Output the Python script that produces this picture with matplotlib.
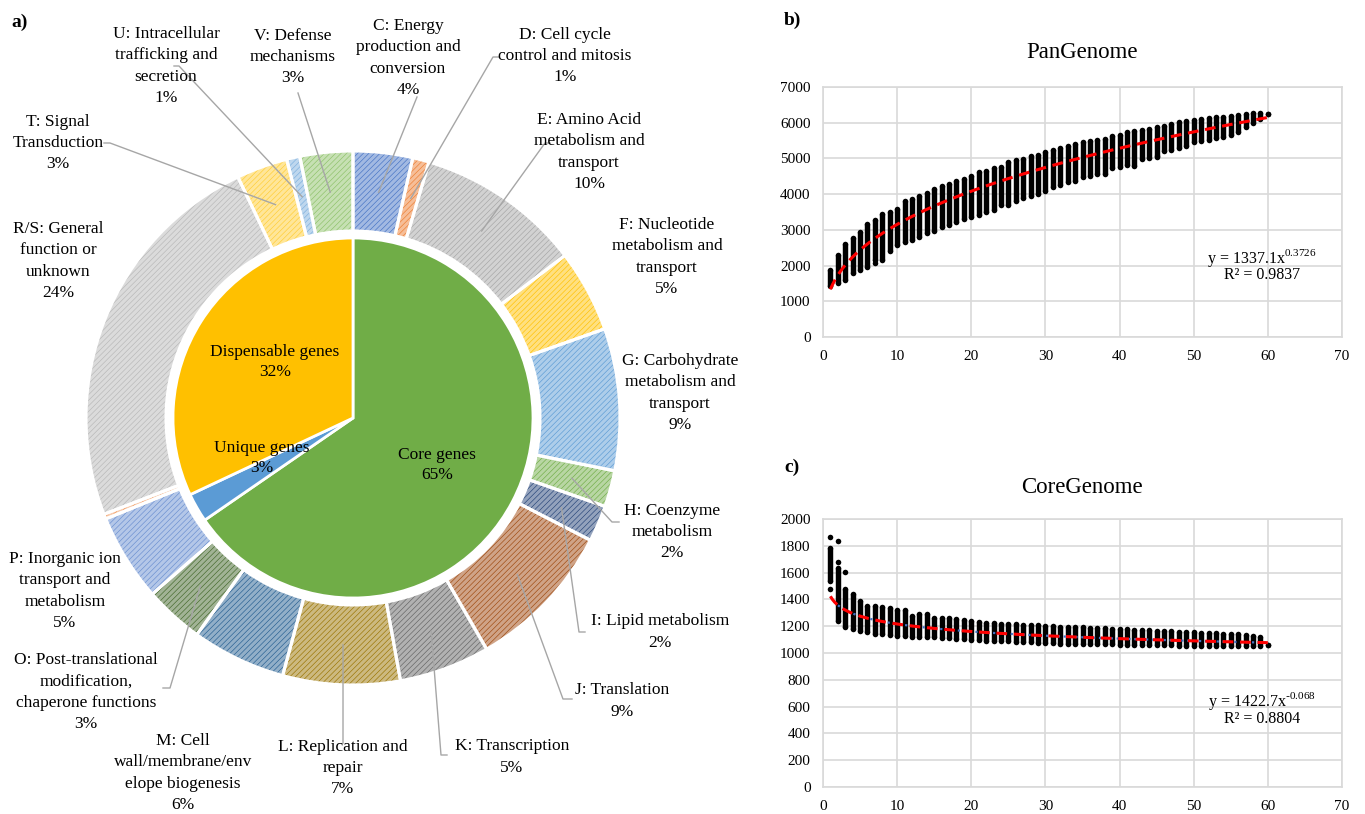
import matplotlib
matplotlib.use('Agg')
import matplotlib.pyplot as plt
import numpy as np
from matplotlib.colors import to_rgb

plt.rcParams['font.family'] = ['Liberation Serif', 'DejaVu Serif']
plt.rcParams['hatch.linewidth'] = 0.45
plt.rcParams['axes.unicode_minus'] = False

W, H = 1365, 814

# ---- a) inner pie: gene groups
gene_groups = ['Core genes', 'Unique genes', 'Dispensable genes']
gene_share = [65.4, 2.6, 32.0]
gene_pct = ['65%', '3%', '32%']
gene_colors = ['#70AD47', '#5B9BD5', '#FFC000']

# ---- a) outer ring: COG categories (clockwise from 12 o'clock)
cog_keys = ['C', 'D', 'E', 'F', 'G', 'H', 'I', 'J', 'K', 'L', 'M', 'O', 'P', 'Q', 'RS', 'T', 'U', 'V']
cog_names = ['C: Energy\nproduction and\nconversion',
             'D: Cell cycle\ncontrol and mitosis',
             'E: Amino Acid\nmetabolism and\ntransport',
             'F: Nucleotide\nmetabolism and\ntransport',
             'G: Carbohydrate\nmetabolism and\ntransport',
             'H: Coenzyme\nmetabolism',
             'I: Lipid metabolism',
             'J: Translation',
             'K: Transcription',
             'L: Replication and\nrepair',
             'M: Cell\nwall/membrane/env\nelope biogenesis',
             'O: Post-translational\nmodification,\nchaperone functions',
             'P: Inorganic ion\ntransport and\nmetabolism',
             None,
             'R/S: General\nfunction or\nunknown',
             'T: Signal\nTransduction',
             'U: Intracellular\ntrafficking and\nsecretion',
             'V: Defense\nmechanisms']
cog_pct = ['4%', '1%', '10%', '5%', '9%', '2%', '2%', '9%', '5%', '7%', '6%', '3%', '5%', '',
           '24%', '3%', '1%', '3%']
cog_share = [3.6, 1.0, 10.0, 5.0, 8.6, 2.2, 2.2, 9.1, 5.5, 7.1, 5.7, 3.6, 5.3, 0.3,
             23.8, 3.1, 0.8, 3.2]
cog_colors = ['#4472C4', '#ED7D31', '#A5A5A5', '#FFC000', '#5B9BD5', '#70AD47',
              '#264478', '#9E480E', '#636363', '#997300', '#255E91', '#43682B',
              '#698ED0', '#F1975A', '#B7B7B7', '#FFCD33', '#7CAFDD', '#8CC168']

# label centres (pixels, from top-left)
lab_pos = {'C': (408, 58), 'D': (565, 56), 'E': (589, 152), 'F': (667, 257),
           'G': (680, 393), 'H': (672, 532), 'I': (660, 632), 'J': (622, 701),
           'K': (512, 757), 'L': (343, 768), 'M': (183, 773), 'O': (86, 692),
           'P': (65, 591), 'RS': (58, 261), 'T': (58, 143), 'U': (166, 66),
           'V': (293, 57)}
leaders = {'T': [(104, 143), (110, 143)], 'U': [(174, 66), (179, 66)],
           'V': [(298, 93)], 'C': [(417, 97)], 'D': [(499, 57), (493, 57)],
           'E': [(550, 143), (545, 143)], 'H': [(619, 522), (612, 522)],
           'I': [(585, 632), (579, 632)], 'J': [(572, 699), (563, 699)],
           'K': [(447, 755), (441, 755)], 'L': [(343, 743)],
           'O': [(163, 688), (170, 688)]}

# ---- b) pan genome, c) core genome (value range per number of genomes)
n_genomes = np.arange(1, 61)
pan_max = [1890, 2290, 2600, 2760, 2940, 3160, 3290, 3440, 3500, 3590, 3820, 3870,
           3940, 4040, 4150, 4220, 4290, 4360, 4430, 4520, 4620, 4660, 4740, 4770,
           4890, 4960, 4990, 5080, 5110, 5170, 5240, 5290, 5360, 5400, 5450, 5500,
           5520, 5540, 5640, 5660, 5730, 5760, 5790, 5820, 5890, 5920, 5960, 6010,
           6050, 6070, 6100, 6130, 6150, 6160, 6190, 6210, 6240, 6260, 6260, 6240]
pan_min = [1430, 1520, 1600, 1780, 1890, 1970, 2150, 2150, 2410, 2570, 2660, 2710,
           2800, 2900, 2970, 3080, 3130, 3220, 3310, 3360, 3410, 3500, 3560, 3710,
           3710, 3820, 3900, 3940, 4010, 4080, 4210, 4270, 4340, 4380, 4490, 4520,
           4570, 4570, 4740, 4770, 4830, 4800, 4990, 5010, 5080, 5200, 5240, 5290,
           5360, 5450, 5500, 5520, 5570, 5610, 5660, 5730, 5870, 5980, 6100, 6240]
pan_out_x = [7, 45]
pan_out_y = [2060, 5030]

core_max = [1780, 1634, 1474, 1437, 1388, 1351, 1351, 1343, 1338, 1318, 1318, 1277,
            1294, 1294, 1264, 1259, 1259, 1252, 1247, 1239, 1234, 1227, 1227, 1220,
            1220, 1215, 1212, 1210, 1208, 1202, 1200, 1197, 1195, 1193, 1191, 1189,
            1187, 1185, 1181, 1178, 1176, 1174, 1171, 1169, 1167, 1165, 1163, 1160,
            1157, 1153, 1151, 1149, 1147, 1145, 1143, 1140, 1136, 1128, 1116, 1062]
core_min = [1540, 1240, 1195, 1178, 1165, 1153, 1141, 1141, 1136, 1128, 1128, 1123,
            1121, 1116, 1116, 1111, 1111, 1104, 1104, 1096, 1096, 1091, 1091, 1086,
            1086, 1081, 1081, 1079, 1077, 1072, 1072, 1070, 1070, 1068, 1068, 1066,
            1066, 1064, 1064, 1062, 1062, 1060, 1060, 1058, 1058, 1057, 1056, 1055,
            1055, 1054, 1054, 1053, 1053, 1052, 1052, 1051, 1050, 1050, 1052, 1062]
core_out_x = [1, 1, 2, 2, 3]
core_out_y = [1864, 1480, 1837, 1676, 1605]

# fitted power-law trendlines shown on the chart
pan_fit = (1337.1, 0.3726, 0.9837)
core_fit = (1422.7, -0.068, 0.8804)


def lighten(c, f):
    return tuple(np.array(to_rgb(c)) * f + (1 - f))


fig = plt.figure(figsize=(W / 100, H / 100), dpi=100)

# ---------------- a) donut, drawn in pixel coordinates
bg = fig.add_axes([0, 0, 1, 1])
cx, cy = 353, 418
r_out, ring_w, r_in = 267, 80, 180

faces = [lighten(c, 0.5) for c in cog_colors]
wedges, _ = bg.pie(cog_share, radius=r_out, center=(cx, cy), startangle=-90,
                   counterclock=True, colors=faces, hatch='//////',
                   wedgeprops=dict(width=ring_w, linewidth=0))
for w, c in zip(wedges, cog_colors):
    w.set_edgecolor(c)
    w.set_linewidth(0)
bg.pie(cog_share, radius=r_out, center=(cx, cy), startangle=-90, counterclock=True,
       colors=['none'] * len(cog_share),
       wedgeprops=dict(width=ring_w, edgecolor='white', linewidth=2.2))
bg.pie(gene_share, radius=r_in, center=(cx, cy), startangle=-90, counterclock=True,
       colors=gene_colors, wedgeprops=dict(edgecolor='white', linewidth=2))

bg.set_xlim(0, W)
bg.set_ylim(H, 0)
bg.set_aspect('auto')
bg.axis('off')

inner_pos = [(437, 465), (262, 458), (275, 362)]
for name, pct, (x, y) in zip(gene_groups, gene_pct, inner_pos):
    bg.text(x, y, name + '\n' + pct, ha='center', va='center', fontsize=12.5,
            linespacing=1.4)

for key, name, pct, w in zip(cog_keys, cog_names, cog_pct, wedges):
    if name is None:
        continue
    x, y = lab_pos[key]
    bg.text(x, y, name + '\n' + pct, ha='center', va='center', fontsize=12.5,
            linespacing=1.42)
    if key in leaders:
        mid = np.deg2rad((w.theta1 + w.theta2) / 2)
        ax_, ay_ = cx + 227 * np.cos(mid), cy + 227 * np.sin(mid)
        pts = leaders[key] + [(ax_, ay_)]
        bg.plot([p[0] for p in pts], [p[1] for p in pts], color='#A6A6A6', lw=1)

bg.text(11, 22, 'a)', fontsize=14, fontweight='bold', va='center')


def ftext(x, y, s, **kw):
    fig.text(x / W, 1 - y / H, s, **kw)


ftext(784, 20, 'b)', fontsize=14, fontweight='bold', va='center')
ftext(784, 467, 'c)', fontsize=14, fontweight='bold', va='center')


# ---------------- b) / c) scatter panels
def style(ax, ymax, ystep):
    ax.set_xlim(0, 70)
    ax.set_ylim(0, ymax)
    ax.set_xticks(range(0, 71, 10))
    ax.set_yticks(np.arange(0, ymax + 1, ystep))
    ax.grid(color='#D9D9D9', lw=1.2)
    ax.set_axisbelow(True)
    for s in ax.spines.values():
        s.set_color('#D9D9D9')
        s.set_linewidth(1.2)
    ax.tick_params(length=0, labelsize=11, colors='black')
    ax.tick_params(axis='x', pad=9)
    ax.tick_params(axis='y', pad=9)


def draw_ranges(ax, lo, hi, ox, oy):
    ax.vlines(n_genomes, lo, hi, colors='black', lw=3.9, capstyle='butt', zorder=3)
    ax.scatter(n_genomes, lo, s=16, color='black', lw=0, zorder=3)
    ax.scatter(n_genomes, hi, s=16, color='black', lw=0, zorder=3)
    ax.scatter(ox, oy, s=16, color='black', lw=0, zorder=3)


axb = fig.add_axes([823 / W, 1 - 337 / H, 519 / W, 250 / H])
style(axb, 7000, 1000)
draw_ranges(axb, pan_min, pan_max, pan_out_x, pan_out_y)
xs = np.linspace(1, 60, 200)
axb.plot(xs, pan_fit[0] * xs ** pan_fit[1], color='#FF0000', lw=2.2,
         dashes=(3.5, 2.2), zorder=4)
ftext(1082, 52, 'PanGenome', fontsize=16.5, ha='center', va='center')
ftext(1262, 258, 'y = 1337.1x$^{\\mathregular{0.3726}}$', fontsize=11.5,
      ha='center', va='center')
ftext(1262, 275, 'R² = 0.9837', fontsize=11.5, ha='center', va='center')

axc = fig.add_axes([823 / W, 1 - 787 / H, 519 / W, 268 / H])
style(axc, 2000, 200)
draw_ranges(axc, core_min, core_max, core_out_x, core_out_y)
axc.plot(xs, core_fit[0] * xs ** core_fit[1], color='#4472C4', lw=1.6,
         ls=':', zorder=4)
axc.plot(xs, core_fit[0] * xs ** core_fit[1], color='#FF0000', lw=2.2,
         dashes=(3.5, 2.2), zorder=5)
ftext(1082, 487, 'CoreGenome', fontsize=16.5, ha='center', va='center')
ftext(1262, 701, 'y = 1422.7x$^{\\mathregular{\\text{-}0.068}}$', fontsize=11.5,
      ha='center', va='center')
ftext(1262, 719, 'R² = 0.8804', fontsize=11.5, ha='center', va='center')

fig.savefig('out.png', dpi=100)
